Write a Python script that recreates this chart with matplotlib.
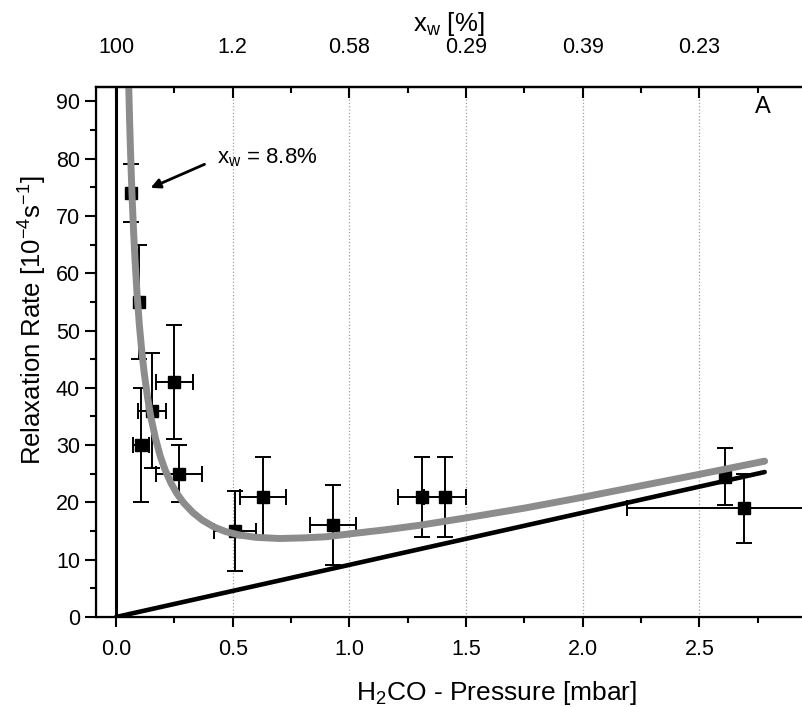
import numpy as np
from matplotlib import pyplot as plt
from matplotlib.ticker import MultipleLocator

# measured relaxation rates vs H2CO pressure
pressure = [0.066, 0.097, 0.25, 0.107, 0.153, 0.27, 0.51, 0.63, 0.93, 1.31, 1.41, 2.61, 2.69]
pressure_err = [0.0, 0.0, 0.08, 0.035, 0.06, 0.1, 0.09, 0.1, 0.1, 0.1, 0.09, 0.0, 0.5]
rate = [74, 55, 41, 30, 36, 25, 15, 21, 16, 21, 21, 24.5, 19]
rate_err = [5, 10, 10, 10, 10, 5, 7, 7, 7, 7, 7, 5, 6]

# fitted curve (grey)
fit_x = [0.054, 0.058, 0.062, 0.066, 0.07, 0.075, 0.08, 0.09, 0.10, 0.11, 0.12, 0.135,
         0.15, 0.17, 0.19, 0.21, 0.235, 0.26, 0.29, 0.33, 0.37, 0.42, 0.47, 0.53,
         0.6, 0.7, 0.8, 0.9, 1.0, 1.15, 1.3, 1.5, 1.75, 2.0, 2.25, 2.5, 2.78]
fit_y = [93.1, 86.7, 81.2, 76.4, 72.0, 67.4, 63.2, 56.4, 50.9, 46.5, 42.8, 38.3,
         34.7, 31.0, 28.0, 25.7, 23.4, 21.6, 19.9, 18.2, 16.9, 15.7, 14.9, 14.3,
         13.9, 13.7, 13.8, 14.0, 14.5, 15.2, 16.0, 17.3, 19.0, 20.9, 22.9, 24.9, 27.2]

# linear contribution (black)
linear_x = [0.0, 2.78]
linear_y = [0.0, 25.3]

top_ticks = [0.0, 0.5, 1.0, 1.5, 2.0, 2.5]
top_labels = ['100', '1.2', '0.58', '0.29', '0.39', '0.23']

plt.rcParams['font.family'] = ['Liberation Sans', 'DejaVu Sans']
plt.rcParams['mathtext.default'] = 'regular'

fig = plt.figure(figsize=(8.02, 7.07), dpi=100)
ax = fig.add_axes([96 / 802, 1 - 617 / 707, 706 / 802, 530 / 707])

ax.axvline(0, color='black', lw=2.2, zorder=2)
ax.plot(linear_x, linear_y, color='black', lw=3.3, solid_capstyle='round', zorder=2.5)
ax.errorbar(pressure, rate, yerr=rate_err, xerr=pressure_err, fmt='s', color='black',
            ms=8, capsize=6, elinewidth=1.4, capthick=1.4, zorder=3)
ax.plot(fit_x, fit_y, color='#8c8c8c', lw=5, solid_capstyle='round',
        solid_joinstyle='round', zorder=4)

ax.set_xlim(-0.086, 2.94)
ax.set_ylim(0, 92.5)
ax.xaxis.set_major_locator(MultipleLocator(0.5))
ax.xaxis.set_minor_locator(MultipleLocator(0.25))
ax.yaxis.set_major_locator(MultipleLocator(10))
ax.yaxis.set_minor_locator(MultipleLocator(5))
ax.xaxis.set_major_formatter(lambda v, p: f'{v:.1f}')
ax.tick_params(axis='x', which='major', direction='out', length=7, width=1.5, pad=9, labelsize=15.5)
ax.tick_params(axis='x', which='minor', direction='out', length=4, width=1.5)
ax.tick_params(axis='y', which='major', direction='out', length=8, width=1.5, pad=3.5, labelsize=15.5)
ax.tick_params(axis='y', which='minor', direction='out', length=4, width=1.5)
ax.grid(axis='x', which='major', linestyle=':', color='#a0a0a0', lw=0.9)
for s in ['left', 'bottom', 'top']:
    ax.spines[s].set_linewidth(1.6)
ax.spines['right'].set_visible(False)

ax.set_xlabel('H$_2$CO - Pressure [mbar]', fontsize=19)
ax.xaxis.set_label_coords(0.568, -0.117)
ax.set_ylabel('Relaxation Rate [10$^{-4}$s$^{-1}$]', fontsize=18.5)
ax.yaxis.set_label_coords(-0.067, 0.56)

# top axis with water fraction
ax2 = ax.twiny()
ax2.set_xlim(ax.get_xlim())
ax2.set_xticks(top_ticks, top_labels)
ax2.xaxis.set_minor_locator(MultipleLocator(0.25))
ax2.tick_params(axis='x', which='major', direction='in', length=8, width=1.5, pad=21, labelsize=15.5)
ax2.tick_params(axis='x', which='minor', direction='in', length=4, width=1.5)
ax2.spines['right'].set_visible(False)
ax2.spines['top'].set_linewidth(1.6)
ax2.set_xlabel('x$_w$ [%]', fontsize=18.5)
ax2.xaxis.set_label_coords(0.5, 1.105)

ax.text(0.433, 80.2, 'x$_w$ = 8.8%', fontsize=16, ha='left', va='center', zorder=5)
ax.annotate('', xy=(0.137, 74.7), xytext=(0.39, 79.2),
            arrowprops=dict(arrowstyle='-|>', color='black', lw=2, mutation_scale=14), zorder=5)
ax.text(2.77, 89, 'A', fontsize=17, ha='center', va='center')

fig.savefig('out.png', dpi=100)
